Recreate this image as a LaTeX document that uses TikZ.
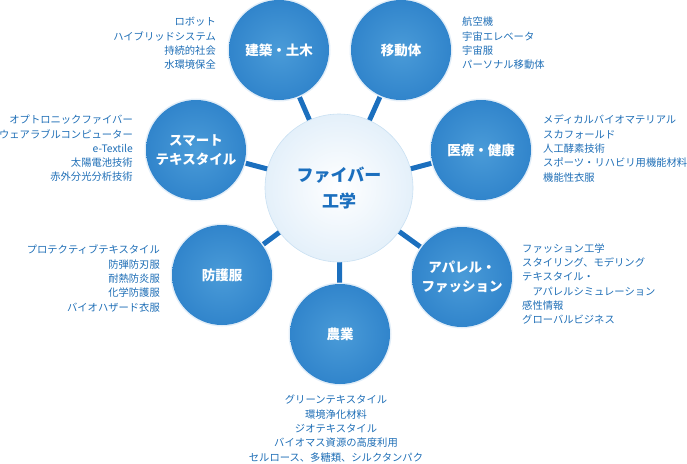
\documentclass[tikz,border=0pt]{standalone}
\usepackage{fontspec}
\setmainfont{Noto Sans CJK JP}
\usepackage{tikz}
\usetikzlibrary{positioning,backgrounds}

\definecolor{satin}{HTML}{4A9BD8}
\definecolor{satmid}{HTML}{2E82CA}
\definecolor{satout}{HTML}{0B63B4}
\definecolor{corein}{HTML}{FFFFFF}
\definecolor{coremid}{HTML}{E4F0FA}
\definecolor{coreout}{HTML}{BCD8EF}
\definecolor{linkblue}{HTML}{1B6FBE}
\definecolor{txtblue}{HTML}{1E6EB6}
\definecolor{glow}{HTML}{E3EEF8}

\pgfdeclareradialshading{satball}{\pgfpointorigin}{color(0bp)=(satin); color(28bp)=(satmid); color(50bp)=(satout); color(80bp)=(satout)}
\pgfdeclareradialshading{coreball}{\pgfpointorigin}{color(0bp)=(corein); color(25bp)=(coremid); color(50bp)=(coreout); color(80bp)=(coreout)}

\begin{document}
\begin{tikzpicture}[x=1pt,y=-1pt,
	sat/.style={circle,minimum size=100pt,inner sep=0pt,shade,shading=satball,
		preaction={draw=glow,line width=3pt},
		text=white,align=center,font=\fontsize{13.5}{19.5}\selectfont\bfseries},
	core/.style={circle,minimum size=148pt,inner sep=0pt,shade,shading=coreball,
		draw=coreout!80,line width=0.6pt,
		text=linkblue,align=center,font=\fontsize{17}{26}\selectfont\bfseries},
	link/.style={draw=linkblue,line width=5pt},
	topics/.style={text=txtblue,inner sep=0pt,font=\fontsize{10.3}{14.3}\selectfont}]
	\useasboundingbox (0,0) rectangle (687,463);
	
	% hub and fields
	\node[core] (fiber) at (339,188) {ファイバー\\工学};
	\node[sat] (build) at (279,50) {建築・土木};
	\node[sat] (mobile) at (401,50) {移動体};
	\node[sat] (medical) at (481,150) {医療・健康};
	\node[sat] (apparel) at (462,277) {アパレル・\\ファッション};
	\node[sat] (agri) at (340,334) {農業};
	\node[sat] (protect) at (222,275) {防護服};
	\node[sat] (smart) at (196,150) {スマート\\テキスタイル};
	
	% spokes
	\begin{scope}[on background layer]
		\foreach \f in {build,mobile,medical,apparel,agri,protect,smart}
		\draw[link] (fiber.center) -- (\f.center);
	\end{scope}
	
	% topic lists
	\node[topics,align=right,anchor=east] (buildlist) at (216,43.5)
	{ロボット\\ハイブリッドシステム\\持続的社会\\水環境保全};
	\node[topics,align=left,anchor=west] (mobilelist) at (462,43.5)
	{航空機\\宇宙エレベータ\\宇宙服\\パーソナル移動体};
	\node[topics,align=right,anchor=east] (smartlist) at (133,148.5)
	{オプトロニックファイバー\\ウェアラブルコンピューター\\e-Textile\\太陽電池技術\\赤外分光分析技術};
	\node[topics,align=left,anchor=west] (medicallist) at (543,148.5)
	{メディカルバイオマテリアル\\スカフォールド\\人工酵素技術\\スポーツ・リハビリ用機能材料\\機能性衣服};
	\node[topics,align=right,anchor=east] (protectlist) at (160,278.5)
	{プロテクティブテキスタイル\\防弾防刃服\\耐熱防炎服\\化学防護服\\バイオハザード衣服};
	\node[topics,align=left,anchor=west] (apparellist) at (522,284)
	{ファッション工学\\スタイリング、モデリング\\テキスタイル・\\\hspace*{1em}アパレルシミュレーション\\感性情報\\グローバルビジネス};
	\node[topics,align=center] (agrilist) at (336,428.5)
	{グリーンテキスタイル\\環境浄化材料\\ジオテキスタイル\\バイオマス資源の高度利用\\セルロース、多糖類、シルクタンパク};
\end{tikzpicture}
\end{document}
